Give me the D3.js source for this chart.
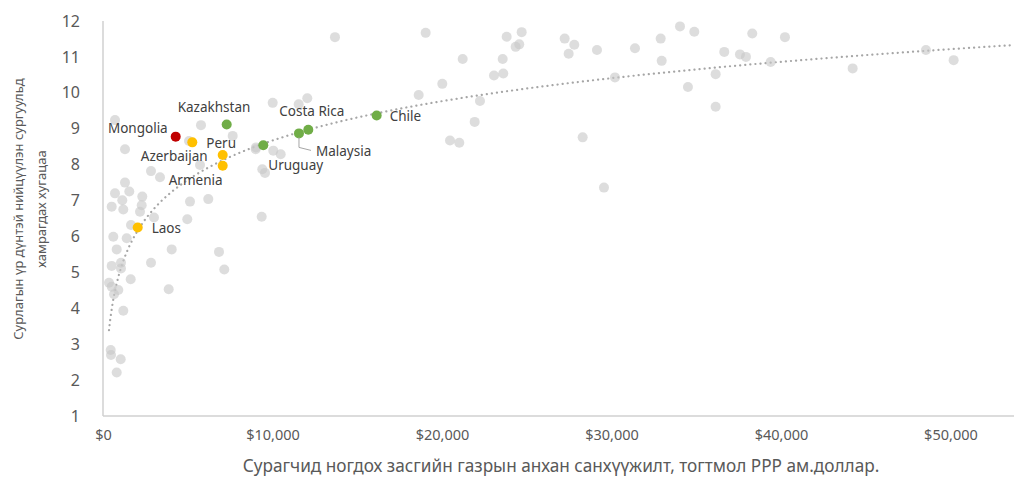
<!DOCTYPE html>
<html><head><meta charset="utf-8">
<script src="https://cdn.jsdelivr.net/npm/d3@7"></script>
<style>
html,body{margin:0;padding:0;background:#fff;}
svg{display:block;font-family:"Noto Sans",sans-serif;}
</style></head>
<body><svg id="c" width="1014" height="478"></svg>
<script>
// ---- data ----
const otherX = [10012,708,5782,7652,5074,1298,9009,10047,10484,5723,2832,3363,9398,9558,1298,708,1552,1139,2319,2283,513,1198,5133,6212,2183,3009,4973,9363,1652,608,1398,4053,808,6844,2832,513,1062,1062,7156,1634,354,513,903,649,3876,1198,454,472,1044,808,13687,19038,23817,24702,24560,24348,21221,23581,23068,23617,20018,18625,22242,21929,20472,21021,11546,12053,9027,27239,27806,27475,29145,31388,32904,34043,34887,32963,30206,34513,36147,36147,28301,29558,38307,40236,36655,37581,37935,39392,44230,48555,50189];
const otherY = [9.72,9.24,9.10,8.80,8.66,8.43,8.43,8.39,8.29,7.99,7.82,7.65,7.87,7.77,7.50,7.20,7.25,7.01,7.11,6.87,6.83,6.75,6.97,7.04,6.69,6.53,6.48,6.55,6.32,5.99,5.95,5.64,5.64,5.57,5.27,5.18,5.27,5.11,5.08,4.81,4.71,4.60,4.51,4.39,4.53,3.93,2.84,2.70,2.58,2.21,11.55,11.67,11.56,11.69,11.35,11.28,10.94,10.94,10.48,10.54,10.25,9.94,9.77,9.19,8.67,8.61,9.68,9.85,8.48,11.51,11.34,11.09,11.19,11.24,11.51,11.85,11.70,10.89,10.43,10.16,10.52,9.61,8.76,7.36,11.65,11.55,11.14,11.07,11.00,10.86,10.68,11.19,10.91];
const highlightNames = ["Mongolia","Kazakhstan","Peru","Azerbaijan","Armenia","Laos","Uruguay","Malaysia","Costa Rica","Chile"];
const highlightX = [4289,7298,5268,7062,7062,2047,9457,11563,12112,16147];
const highlightY = [8.78,9.12,8.62,8.27,7.97,6.25,8.54,8.87,8.97,9.37];
const highlightGroup = ["mongolia","peer","region","region","region","region","peer","peer","peer","peer"];
// logarithmic trendline as shown in the source chart: y = a*ln(x) + b
const trendA = 1.581, trendB = -5.89;
const xTicks = [0,10000,20000,30000,40000,50000];
const yTicks = [1,2,3,4,5,6,7,8,9,10,11,12];
const xTitle = "Сурагчид ногдох засгийн газрын анхан санхүүжилт, тогтмол PPP ам.доллар.";
const yTitle = ["Сурлагын үр дүнтэй нийцүүлэн сургуульд","хамрагдах хугацаа"];

// ---- layout / style ----
const colors = {mongolia:"#c00000", peer:"#70ad47", region:"#ffc000"};
const labelPos = { // label offsets from the dot (px), anchor
  "Mongolia":[-8,-8,"end"], "Kazakhstan":[-49,-17,"start"], "Peru":[14,1,"start"],
  "Azerbaijan":[-15,1,"end"], "Armenia":[-54,15,"start"], "Laos":[14,1,"start"],
  "Uruguay":[5,20,"start"], "Malaysia":[17,18,"start"], "Costa Rica":[-29,-19,"start"], "Chile":[13,1,"start"]
};

const svg = d3.select("#c");
const L=103, R=1014, T=21, B=416;
const x = d3.scaleLinear().domain([0,53750]).range([L,R]);
const y = d3.scaleLinear().domain([1,12]).range([B,T]);

// axis lines
svg.append("line").attr("x1",L).attr("x2",L).attr("y1",T).attr("y2",B).attr("stroke","#d0d0d0").attr("stroke-width",1.5);
svg.append("line").attr("x1",L).attr("x2",R).attr("y1",B).attr("y2",B).attr("stroke","#d0d0d0").attr("stroke-width",1.5);

const xa = svg.append("g").attr("transform",`translate(0,${B})`)
  .call(d3.axisBottom(x).tickValues(xTicks).tickSize(0).tickPadding(14).tickFormat(d=>"$"+d3.format(",")(d)));
xa.select(".domain").remove();
xa.selectAll("text").attr("fill","#595959").style("font-size","14.5px").style("font-family","Noto Sans");
const ya = svg.append("g").attr("transform",`translate(${L},0)`)
  .call(d3.axisLeft(y).tickValues(yTicks).tickSize(0).tickPadding(23).tickFormat(d3.format("d")));
ya.select(".domain").remove();
ya.selectAll("text").attr("fill","#595959").style("font-size","16px").style("font-family","Noto Sans");

// titles
svg.append("text").attr("x",561).attr("y",472).attr("text-anchor","middle").attr("fill","#595959")
  .style("font-size","17.2px").text(xTitle);
const yt = svg.append("text").attr("transform","translate(0,209) rotate(-90)").attr("text-anchor","middle")
  .attr("fill","#595959").style("font-size","13px");
yt.append("tspan").attr("x",0).attr("y",23).text(yTitle[0]);
yt.append("tspan").attr("x",0).attr("y",46).text(yTitle[1]);

// trendline
const allX = otherX.concat(highlightX);
const tx0 = d3.min(allX), tx1 = x.domain()[1];
const trend = d3.range(0,201).map(i=>{const v=Math.exp(Math.log(tx0)+(Math.log(tx1)-Math.log(tx0))*i/200);return [v,trendA*Math.log(v)+trendB];})
  .filter(d=>d[1]>=1);
svg.append("path").datum(trend).attr("fill","none").attr("stroke","#a6a6a6").attr("stroke-width",2.2)
  .attr("stroke-dasharray","0.1 5").attr("stroke-linecap","round")
  .attr("d",d3.line().x(d=>x(d[0])).y(d=>y(d[1])));

// other points
svg.append("g").selectAll("circle").data(otherX.map((v,i)=>[v,otherY[i]])).join("circle")
  .attr("cx",d=>x(d[0])).attr("cy",d=>y(d[1])).attr("r",5).attr("fill","#c8c8c8").attr("fill-opacity",0.62);

// highlighted
const hd = highlightNames.map((n,i)=>({n,x:highlightX[i],y:highlightY[i],g:highlightGroup[i]}));
svg.append("g").selectAll("circle").data(hd).join("circle")
  .attr("cx",d=>x(d.x)).attr("cy",d=>y(d.y)).attr("r",5).attr("fill",d=>colors[d.g]);

// Malaysia leader line
const mal = hd.find(d=>d.n==="Malaysia");
svg.append("path").attr("fill","none").attr("stroke","#a6a6a6").attr("stroke-width",1)
  .attr("d",`M${x(mal.x)},${y(mal.y)+4}L${x(mal.x)},${y(mal.y)+14}L${x(mal.x)+12},${y(mal.y)+17}`);

svg.append("g").selectAll("text").data(hd).join("text")
  .attr("x",d=>x(d.x)+labelPos[d.n][0]).attr("y",d=>y(d.y)+labelPos[d.n][1])
  .attr("dy","0.35em").attr("text-anchor",d=>labelPos[d.n][2])
  .attr("fill","#404040").style("font-size","13.5px").text(d=>d.n);
</script></body></html>
